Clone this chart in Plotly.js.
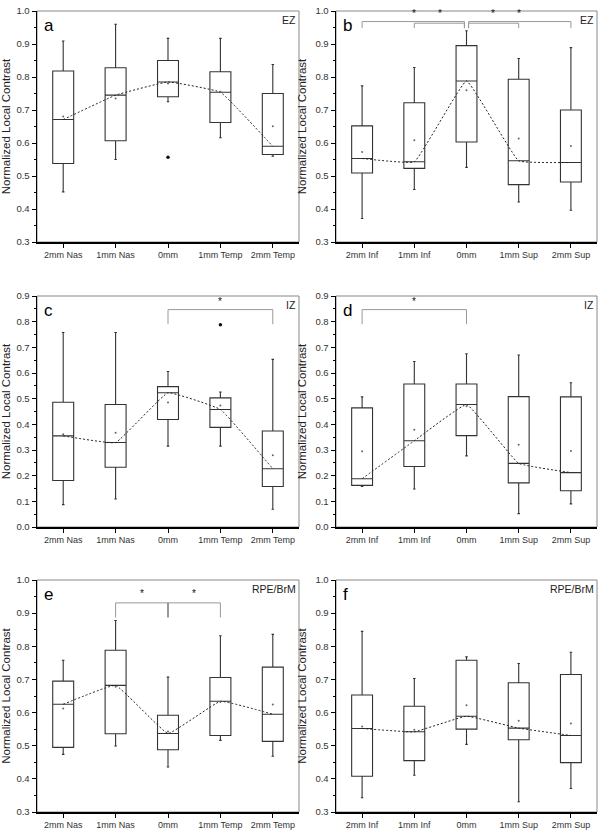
<!DOCTYPE html>
<html>
<head>
<meta charset="utf-8">
<script src="https://cdn.plot.ly/plotly-3.0.1.min.js"></script>
<style>html,body{margin:0;padding:0;background:#fff;}#chart{width:604px;height:834px;}</style>
</head>
<body>
<div id="chart"></div>
<script>
// ---------- categories ----------
const catsNT = ['2mm Nas', '1mm Nas', '0mm', '1mm Temp', '2mm Temp'];
const catsIS = ['2mm Inf', '1mm Inf', '0mm', '1mm Sup', '2mm Sup'];
const catPos = [0, 1, 2, 3, 4];

// ---------- panel a (EZ, nasal-temporal) ----------
const aUpper = [0.909, 0.960, 0.917, 0.917, 0.838];
const aQ3    = [0.818, 0.828, 0.850, 0.816, 0.750];
const aMed   = [0.671, 0.745, 0.785, 0.754, 0.590];
const aQ1    = [0.538, 0.607, 0.740, 0.662, 0.565];
const aLower = [0.452, 0.550, 0.725, 0.616, 0.560];
const aMean  = [0.680, 0.735, 0.780, 0.755, 0.651];
const aOutX  = [2];
const aOutY  = [0.557];

// ---------- panel b (EZ, inferior-superior) ----------
const bUpper = [0.773, 0.829, 0.940, 0.856, 0.889];
const bQ3    = [0.652, 0.722, 0.895, 0.793, 0.700];
const bMed   = [0.553, 0.543, 0.788, 0.546, 0.541];
const bQ1    = [0.509, 0.523, 0.603, 0.474, 0.482];
const bLower = [0.371, 0.459, 0.526, 0.421, 0.396];
const bMean  = [0.573, 0.608, 0.760, 0.614, 0.591];
// brackets: [from, to, level]
const bBrackets = [[0, 1.96, 0.968], [1, 1.96, 0.963], [2.04, 3, 0.963], [2.04, 4, 0.968]];
const bStarX = [1, 1.5, 2.5, 3];
const bStarY = [0.993, 0.993, 0.993, 0.993];

// ---------- panel c (IZ, nasal-temporal) ----------
const cUpper = [0.758, 0.758, 0.606, 0.526, 0.653];
const cQ3    = [0.486, 0.477, 0.547, 0.503, 0.374];
const cMed   = [0.355, 0.329, 0.523, 0.458, 0.227];
const cQ1    = [0.181, 0.233, 0.419, 0.388, 0.158];
const cLower = [0.087, 0.109, 0.315, 0.315, 0.069];
const cMean  = [0.361, 0.367, 0.485, 0.473, 0.280];
const cOutX  = [3];
const cOutY  = [0.788];
const cBrackets = [[2, 4, 0.847]];
const cStarX = [3];
const cStarY = [0.877];

// ---------- panel d (IZ, inferior-superior) ----------
const dUpper = [0.507, 0.645, 0.675, 0.670, 0.562];
const dQ3    = [0.464, 0.557, 0.557, 0.508, 0.507];
const dMed   = [0.188, 0.336, 0.477, 0.248, 0.212];
const dQ1    = [0.162, 0.236, 0.356, 0.172, 0.141];
const dLower = [0.158, 0.148, 0.277, 0.052, 0.090];
const dMean  = [0.295, 0.379, 0.470, 0.320, 0.296];
const dBrackets = [[0, 2, 0.847]];
const dStarX = [1];
const dStarY = [0.877];

// ---------- panel e (RPE/BrM, nasal-temporal) ----------
const eUpper = [0.758, 0.878, 0.707, 0.832, 0.836];
const eQ3    = [0.695, 0.788, 0.592, 0.706, 0.737];
const eMed   = [0.625, 0.682, 0.537, 0.634, 0.595];
const eQ1    = [0.495, 0.536, 0.488, 0.531, 0.513];
const eLower = [0.474, 0.499, 0.436, 0.516, 0.468];
const eMean  = [0.612, 0.678, 0.543, 0.632, 0.624];
const eBrackets = [[1, 3, 0.931]];
const eStarX = [1.5, 2.5];
const eStarY = [0.958, 0.958];

// ---------- panel f (RPE/BrM, inferior-superior) ----------
const fUpper = [0.845, 0.703, 0.768, 0.748, 0.782];
const fQ3    = [0.653, 0.619, 0.758, 0.690, 0.715];
const fMed   = [0.552, 0.542, 0.589, 0.553, 0.531];
const fQ1    = [0.408, 0.455, 0.550, 0.518, 0.449];
const fLower = [0.343, 0.411, 0.504, 0.331, 0.371];
const fMean  = [0.558, 0.548, 0.622, 0.575, 0.567];

// ---------- build ----------
const FONT = 'Arial, "Liberation Sans", sans-serif';
const W = 604, H = 834;
const colsPx = [[37, 299], [336, 597]];
const rowsPx = [[11, 242], [296, 527], [580, 812]];

const panels = [
  {id: '',  letter: 'a', zone: 'EZ',      cats: catsNT, yr: [0.3, 1.0], up: aUpper, q3: aQ3, med: aMed, q1: aQ1, lo: aLower, mean: aMean, outX: aOutX, outY: aOutY, br: [], sx: [], sy: [], col: 0, row: 0},
  {id: '2', letter: 'b', zone: 'EZ',      cats: catsIS, yr: [0.3, 1.0], up: bUpper, q3: bQ3, med: bMed, q1: bQ1, lo: bLower, mean: bMean, outX: [], outY: [], br: bBrackets, drop: 0.948, sx: bStarX, sy: bStarY, col: 1, row: 0},
  {id: '3', letter: 'c', zone: 'IZ',      cats: catsNT, yr: [0.0, 0.9], up: cUpper, q3: cQ3, med: cMed, q1: cQ1, lo: cLower, mean: cMean, outX: cOutX, outY: cOutY, br: cBrackets, drop: 0.79, sx: cStarX, sy: cStarY, col: 0, row: 1},
  {id: '4', letter: 'd', zone: 'IZ',      cats: catsIS, yr: [0.0, 0.9], up: dUpper, q3: dQ3, med: dMed, q1: dQ1, lo: dLower, mean: dMean, outX: [], outY: [], br: dBrackets, drop: 0.79, sx: dStarX, sy: dStarY, col: 1, row: 1},
  {id: '5', letter: 'e', zone: 'RPE/BrM', cats: catsNT, yr: [0.3, 1.0], up: eUpper, q3: eQ3, med: eMed, q1: eQ1, lo: eLower, mean: eMean, outX: [], outY: [], br: eBrackets, drop: 0.887, center: true, sx: eStarX, sy: eStarY, col: 0, row: 2},
  {id: '6', letter: 'f', zone: 'RPE/BrM', cats: catsIS, yr: [0.3, 1.0], up: fUpper, q3: fQ3, med: fMed, q1: fQ1, lo: fLower, mean: fMean, outX: [], outY: [], br: [], sx: [], sy: [], col: 1, row: 2}
];

const data = [];
const layout = {
  width: W, height: H,
  margin: {l: 0, r: 0, t: 0, b: 0},
  paper_bgcolor: '#fff', plot_bgcolor: '#fff',
  showlegend: false,
  font: {family: FONT, size: 9, color: '#333'},
  shapes: [], annotations: []
};

panels.forEach(p => {
  const xa = 'x' + p.id, ya = 'y' + p.id;
  const xk = 'xaxis' + p.id, yk = 'yaxis' + p.id;
  const cx = colsPx[p.col], ry = rowsPx[p.row];

  data.push({
    type: 'box', xaxis: xa, yaxis: ya,
    x: catPos, q1: p.q1, median: p.med, q3: p.q3,
    lowerfence: p.lo, upperfence: p.up,
    width: 0.4, whiskerwidth: 0.12,
    boxpoints: false,
    fillcolor: 'rgba(255,255,255,0)',
    line: {color: '#333', width: 1.1},
    hoverinfo: 'skip'
  });
  // dashed line through medians
  data.push({
    type: 'scatter', mode: 'lines', xaxis: xa, yaxis: ya,
    x: catPos, y: p.med,
    line: {color: '#222', width: 1, dash: '2px,2px', shape: 'spline', smoothing: 0.25},
    hoverinfo: 'skip'
  });
  // mean dots
  data.push({
    type: 'scatter', mode: 'markers', xaxis: xa, yaxis: ya,
    x: catPos, y: p.mean,
    marker: {color: '#666', size: 2},
    hoverinfo: 'skip'
  });
  if (p.outX.length) {
    data.push({
      type: 'scatter', mode: 'markers', xaxis: xa, yaxis: ya,
      x: p.outX, y: p.outY,
      marker: {color: '#111', size: 3.5},
      hoverinfo: 'skip'
    });
  }
  // significance stars
  p.sx.forEach((sx, i) => {
    layout.annotations.push({
      xref: xa, yref: ya, x: sx, y: p.sy[i],
      text: '*', showarrow: false, xanchor: 'center', yanchor: 'middle',
      font: {family: FONT, size: 10, color: '#111'}
    });
  });

  layout[xk] = {
    domain: [cx[0] / W, cx[1] / W],
    anchor: ya,
    range: [-0.5, 4.5],
    tickmode: 'array', tickvals: catPos, ticktext: p.cats,
    ticks: 'outside', ticklen: 4, tickwidth: 1, tickcolor: '#000',
    showline: true, linecolor: '#000', linewidth: 1.5,
    showgrid: false, zeroline: false, fixedrange: true,
    tickfont: {family: FONT, size: 9, color: '#333'},
    automargin: false
  };
  layout[yk] = {
    domain: [1 - ry[1] / H, 1 - ry[0] / H],
    anchor: xa,
    range: p.yr,
    dtick: 0.1, tick0: 0, tickformat: '.1f',
    ticks: 'outside', ticklen: 4, tickwidth: 1, tickcolor: '#000',
    minor: {ticks: 'outside', ticklen: 2, dtick: 0.05, tickcolor: '#000', tickwidth: 1},
    showline: true, linecolor: '#000', linewidth: 1.5,
    showgrid: false, zeroline: false, fixedrange: true,
    tickfont: {family: FONT, size: 9.5, color: '#333'},
    title: {text: 'Normalized Local Contrast', font: {family: FONT, size: 11.5, color: '#222'}, standoff: 6},
    automargin: false
  };

  // gray frame (top/right)
  layout.shapes.push({
    type: 'rect', xref: xa + ' domain', yref: ya + ' domain',
    x0: 0, x1: 1, y0: 0, y1: 1, layer: 'below',
    line: {color: '#888', width: 1}
  });
  // significance brackets
  p.br.forEach(b => {
    layout.shapes.push({
      type: 'path', xref: xa, yref: ya,
      path: 'M' + b[0] + ',' + p.drop + ' L' + b[0] + ',' + b[2] + ' L' + b[1] + ',' + b[2] + ' L' + b[1] + ',' + p.drop,
      line: {color: '#999', width: 1}
    });
  });
  if (p.center) {
    const b = p.br[0];
    layout.shapes.push({
      type: 'line', xref: xa, yref: ya,
      x0: 2, x1: 2, y0: p.drop, y1: b[2],
      line: {color: '#999', width: 2}
    });
  }

  // panel letter
  layout.annotations.push({
    xref: xa + ' domain', yref: ya + ' domain',
    x: 0.02, y: 0.985, xanchor: 'left', yanchor: 'top',
    text: p.letter, showarrow: false,
    font: {family: FONT, size: 17, color: '#000'}
  });
  // zone label
  layout.annotations.push({
    xref: xa + ' domain', yref: ya + ' domain',
    x: 0.995, y: 0.997, xanchor: 'right', yanchor: 'top',
    text: p.zone, showarrow: false,
    font: {family: FONT, size: 10.5, color: '#222'}
  });
});

Plotly.newPlot('chart', data, layout, {staticPlot: true, displayModeBar: false});
</script>
</body>
</html>
